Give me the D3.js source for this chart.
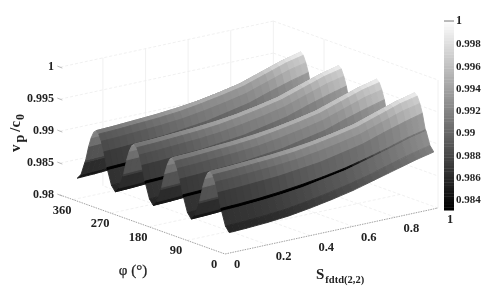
<!DOCTYPE html>
<html><head><meta charset="utf-8">
<script src="https://cdn.jsdelivr.net/npm/d3@7/dist/d3.min.js"></script>
<style>html,body{margin:0;padding:0;background:#fff}svg{display:block}
text{font-family:"Liberation Serif",serif;font-weight:bold;fill:#222}</style></head><body>
<script>
// ---- data ----
const sValues   = [0.02,0.1,0.2,0.3,0.4,0.5,0.6,0.7,0.8,0.9,0.98];
const phiOffsets= [0,9,18,20,27,33,39,45];      // degrees from a valley, up to the crest
const zRow0  = [.9832,.9833,.9835,.9838,.9843,.9849,.9856,.9865,.9874,.9883,.9889];
const zRow9  = [.9840,.9841,.9843,.9846,.9851,.9857,.9864,.9872,.9882,.9891,.9897];
const zRow18 = [.9861,.9862,.9864,.9867,.9871,.9877,.9883,.9892,.9901,.9911,.9917];
const zRow20 = [.9865,.9866,.9868,.9871,.9875,.9880,.9886,.9894,.9903,.9913,.9919];
const zRow27 = [.9888,.9889,.9891,.9893,.9897,.9901,.9908,.9915,.9926,.9936,.9943];
const zRow33 = [.9903,.9904,.9906,.9908,.9911,.9916,.9922,.9929,.9940,.9951,.9957];
const zRow39 = [.9913,.9914,.9916,.9918,.9921,.9926,.9932,.9939,.9950,.9961,.9967];
const zRow45 = [.9917,.9918,.9920,.9922,.9925,.9929,.9935,.9942,.9953,.9964,.9971];
const zRows  = [zRow0,zRow9,zRow18,zRow20,zRow27,zRow33,zRow39,zRow45];
const quadrants = [0,90,180,270];
const sTicks = [0,0.2,0.4,0.6,0.8,1];
const sTickLabels = ["0","0.2","0.4","0.6","0.8","1"];
const phiTicks = [0,90,180,270,360];
const zTicks = [0.98,0.985,0.99,0.995,1];
const zTickLabels = ["0.98","0.985","0.99","0.995","1"];
const cbTicks = [0.984,0.986,0.988,0.99,0.992,0.994,0.996,0.998,1];
const cbLabels = ["0.984","0.986","0.988","0.99","0.992","0.994","0.996","0.998","1"];
// facet brightness adjustments (valley to crest)
const bandShade = [30,24,-90,0,-4,-8,14];
const colShade  = [.8,.84,.9,.98,1.04,1.06,1.04,1.02,1,1,1.02];

const W=485,H=287;
const svg=d3.select("body").append("svg").attr("width",W).attr("height",H);
const root=svg.append("g").style("filter","blur(0.35px)");

// oblique projection built from three linear scales
const sx=d3.scaleLinear([0,1],[0,213]), sy=d3.scaleLinear([0,1],[0,-46]);
const px=d3.scaleLinear([0,90],[0,-38]), py=d3.scaleLinear([0,90],[0,-13.6]);
const zy=d3.scaleLinear([0.98,1],[0,-128]);
const O=[225,254], phiMax=390;
const P=(s,phi,z)=>[O[0]+sx(s)+px(phi), O[1]+sy(s)+py(phi)+zy(z)];
const gray=d3.scaleLinear([0.983,1],[0,255]).clamp(true);
const g2c=v=>{v=Math.max(0,Math.min(255,Math.round(v)));return `rgb(${v},${v},${v})`};
const line=d3.line();

// grid
const gridG=root.append("g").attr("fill","none").attr("stroke","#ececec").attr("stroke-width",0.8);
const seg=(a,b,dash)=>gridG.append("path").attr("d",line([a,b])).attr("stroke-dasharray",dash||null);
zTicks.forEach(z=>{
  if(z>0.98){seg(P(0,phiMax,z),P(1,phiMax,z),"3,2");seg(P(1,phiMax,z),P(1,0,z),"3,2");}
});
sTicks.slice(1).forEach(s=>{
  seg(P(s,phiMax,0.98),P(s,phiMax,1));
  seg(P(s,0,0.98),P(s,phiMax,0.98),"3,2");
});
seg(P(1,0,0.98),P(1,0,1));
seg(P(1,270,0.98),P(1,270,1));
phiTicks.slice(1).forEach(p=>seg(P(0,p,0.98),P(1,p,0.98),"3,2"));

// axes on floor
const axG=root.append("g").attr("fill","none").attr("stroke","#8a8a8a").attr("stroke-width",0.8).attr("stroke-dasharray","1.5,1");
axG.append("path").attr("d",line([P(0,phiMax,0.98),P(0,0,0.98),P(1,0,0.98)]));
zTicks.forEach(z=>{const p=P(0,phiMax,z);
  root.append("path").attr("d",line([[p[0]-3,p[1]-1],[p[0]+2,p[1]+1]])).attr("stroke","#aaa").attr("stroke-width",.8);});

// surface: far quadrants first, far S first; each cell is painted as narrow strips so the shade runs smoothly along S
const surf=root.append("g");
const facets=[];
const STRIPS=3;
const mix=(u,v,t)=>u+(v-u)*t;
quadrants.slice().reverse().forEach(q=>{
  const n=phiOffsets.length-1;
  const rows=[];
  phiOffsets.forEach((o,i)=>rows.push({phi:q+o,z:zRows[i]}));
  for(let i=n-1;i>=0;i--)rows.push({phi:q+90-phiOffsets[i],z:zRows[i]});
  for(let r=rows.length-2;r>=0;r--){
    const a=rows[r],b=rows[r+1];
    const shade=c=>{
      let v=gray((a.z[c]+b.z[c])/2);
      if(r<n){
        let off=bandShade[r];
        if(r===2&&c>=8)off=-12;
        else if(r===2&&c===7)off=-45;
        v=v*colShade[c]+off;
        if(c>=9&&r>=4)v+=10;
      } else v=v+12;
      return Math.max(0,Math.min(255,v));
    };
    for(let c=sValues.length-2;c>=0;c--){
      const v0=shade(c),v1=shade(c+1);
      for(let k=STRIPS-1;k>=0;k--){
        const t0=k/STRIPS,t1=(k+1)/STRIPS;
        const s0=mix(sValues[c],sValues[c+1],t0),s1=mix(sValues[c],sValues[c+1],t1);
        facets.push({pts:[
          P(s0,a.phi,mix(a.z[c],a.z[c+1],t0)),P(s1,a.phi,mix(a.z[c],a.z[c+1],t1)),
          P(s1,b.phi,mix(b.z[c],b.z[c+1],t1)),P(s0,b.phi,mix(b.z[c],b.z[c+1],t0))],
          col:g2c(mix(v0,v1,(t0+t1)/2))});
      }
    }
  }
});
surf.selectAll("path").data(facets).join("path")
  .attr("d",d=>line(d.pts)+"Z").attr("fill",d=>d.col).attr("stroke",d=>d.col).attr("stroke-width",0.9);

// tick labels
const txt=(x,y,t,size,anchor)=>root.append("text").attr("x",x).attr("y",y).attr("font-size",size).attr("text-anchor",anchor||"middle").text(t);
zTicks.forEach((z,i)=>{const p=P(0,phiMax,z);txt(54,p[1]+3,zTickLabels[i],12,"end");});
phiTicks.forEach(p=>{const q=P(0,p,0.98);txt(q[0]-11,q[1]+14,String(p),12.5);});
sTicks.forEach((s,i)=>{const q=P(s,0,0.98);txt(q[0]+(i==0?12:(i==5?12:16)),q[1]+(i==0?14:15),sTickLabels[i],12.5);});

// axis titles
const yt=root.append("text").attr("transform","translate(20,152) rotate(-90)").attr("font-size",15);
yt.append("tspan").text("v");
yt.append("tspan").attr("dy",4).attr("dx",2).attr("font-size",14).text("p");
yt.append("tspan").attr("dy",-4).attr("dx",3).text("/c");
yt.append("tspan").attr("dy",4).attr("dx",1).attr("font-size",12).text("0");
root.append("text").attr("x",133).attr("y",275).attr("font-size",15).attr("text-anchor","middle").style("font-weight","normal").attr("stroke","#222").attr("stroke-width",.25).text("φ (°)");
const st=root.append("text").attr("x",316).attr("y",279).attr("font-size",15);
st.append("tspan").text("S");
st.append("tspan").attr("dy",4).attr("dx",1).attr("font-size",10.5).text("fdtd(2,2)");

// colour bar
const cbY=d3.scaleLinear([0.984,1],[199,21]);
const cbVals=d3.range(0.983,1.0,0.00025);
root.append("g").selectAll("rect").data(cbVals).join("rect")
  .attr("x",444).attr("width",10).attr("y",d=>cbY(d+0.00025)).attr("height",d=>cbY(d)-cbY(d+0.00025)+0.4)
  .attr("fill",d=>g2c(gray(d)));
root.append("path").attr("d",line([[444,21],[454,21]])).attr("stroke","#555").attr("stroke-width",.8);
cbTicks.forEach((t,i)=>txt(456,cbY(t)+(t==1?3:4),cbLabels[i],t==1?12:11,"start"));
</script></body></html>
